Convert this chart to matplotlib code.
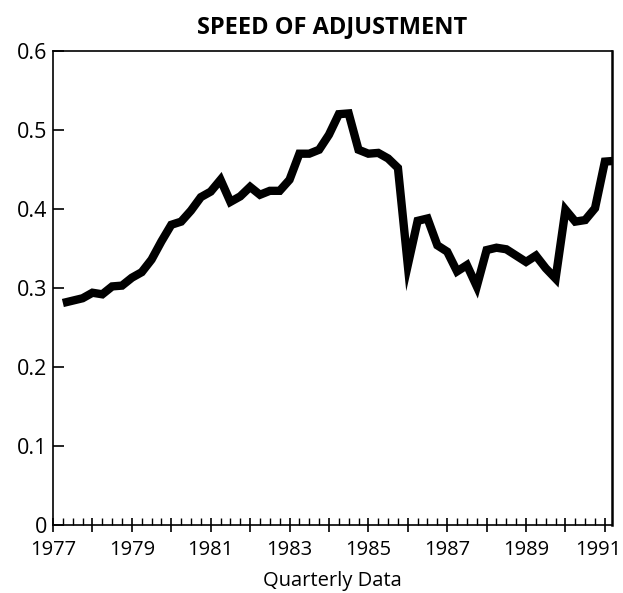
import matplotlib
matplotlib.use('Agg')
import matplotlib.pyplot as plt
import matplotlib.transforms as mtransforms
from matplotlib.ticker import MultipleLocator

plt.rcParams['font.family'] = ['Open Sans', 'DejaVu Sans']

# quarterly observations, 1977 Q2 .. 1991 Q2
start_year = 1977.25
speed = [0.281, 0.284, 0.287, 0.294, 0.292, 0.302, 0.303, 0.313, 0.320,
         0.336, 0.359, 0.380, 0.384, 0.398, 0.415, 0.422, 0.437,
         0.409, 0.416, 0.428, 0.418, 0.423, 0.423, 0.437, 0.470, 0.470,
         0.475, 0.494, 0.520, 0.521, 0.475, 0.470, 0.471, 0.464, 0.452,
         0.329, 0.385, 0.388, 0.354, 0.346, 0.321, 0.329, 0.302, 0.348,
         0.351, 0.349, 0.341, 0.333, 0.341, 0.325, 0.312, 0.399, 0.384,
         0.386, 0.401, 0.460, 0.461]
quarters = [start_year + 0.25 * i for i in range(len(speed))]

year_labels = list(range(1977, 1992, 2))
y_ticks = [0, 0.1, 0.2, 0.3, 0.4, 0.5, 0.6]
y_labels = ['0', '0.1', '0.2', '0.3', '0.4', '0.5', '0.6']

fig = plt.figure(figsize=(6.23, 5.93), dpi=100)
ax = fig.add_axes([0.0851, 0.1147, 0.8972, 0.7993])

ax.plot(quarters, speed, color='black', linewidth=6,
        solid_joinstyle='miter', solid_capstyle='butt')

ax.set_xlim(1977, 1991.18)
ax.set_ylim(0, 0.6)

ax.xaxis.set_minor_locator(MultipleLocator(0.25))
ax.set_xticks(range(1977, 1992))
ax.set_xticklabels([str(y) if y in year_labels else '' for y in range(1977, 1992)])
ax.set_yticks(y_ticks)
ax.set_yticklabels(y_labels)

ax.tick_params(axis='x', which='major', direction='inout', length=10, width=1.2,
               labelsize=14.5, pad=6)
ax.tick_params(axis='x', which='minor', direction='in', length=5, width=1)
ax.tick_params(axis='y', which='major', direction='in', length=8, width=1.2,
               labelsize=15.5, pad=4)

# last year label sits against the right edge, nudge it in a little
last = ax.get_xticklabels()[-1]
last.set_transform(last.get_transform() +
                   mtransforms.ScaledTranslation(-5 / 72, 0, fig.dpi_scale_trans))

for side in ['left', 'bottom', 'top']:
    ax.spines[side].set_linewidth(1.2)
ax.spines['right'].set_linewidth(1.8)

ax.set_xlabel('Quarterly Data', fontsize=14.5, labelpad=8)
ax.set_title('SPEED OF ADJUSTMENT', fontsize=17, fontweight='bold', pad=13)

fig.savefig('out.png', dpi=100, facecolor='white')
